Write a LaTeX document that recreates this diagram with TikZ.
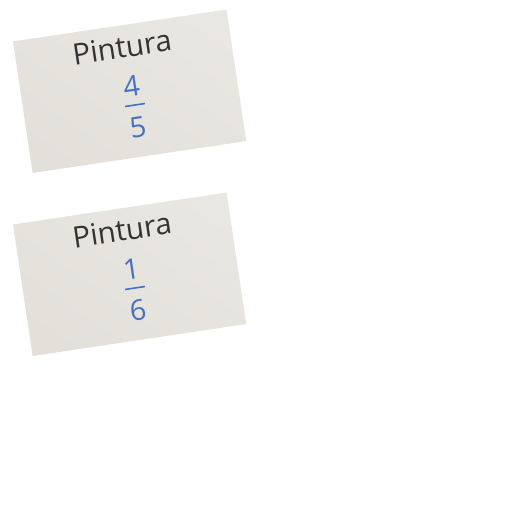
\documentclass[tikz,border=0pt]{standalone}
\usepackage{fontspec}
\usetikzlibrary{shadings}
\setmainfont{Open Sans}
\definecolor{cardA}{RGB}{234,232,226}
\definecolor{cardB}{RGB}{225,223,216}
\definecolor{txtgray}{RGB}{52,52,52}
\definecolor{fracblue}{RGB}{68,114,196}
\tikzset{
  cardbox/.style={lower left=cardB, upper right=cardA, upper left=cardA!50!cardB, lower right=cardA!50!cardB},
  title/.style={anchor=base, inner sep=0pt, transform shape, text=txtgray, font=\fontsize{29.5}{29.5}\selectfont},
  digit/.style={anchor=base, inner sep=0pt, transform shape, text=fracblue, font=\fontsize{28.5}{28.5}\selectfont},
  fbar/.style={draw=fracblue, line width=1.6pt}
}
\begin{document}
\begin{tikzpicture}[x=1pt,y=1pt]
\useasboundingbox (0,0) rectangle (512,512);
% card 1
\begin{scope}[shift={(129.6,420.75)}, rotate=8.5]
  \shade[cardbox] (-108,-66.5) rectangle (108,66.5);
  \node[title] (t1) at (-1,34) {Pintura};
  \node[digit] (n1) at (2.5,-5.4) {4};
  \coordinate (b1l) at (-6.7,-14.4);
  \coordinate (b1r) at (13.3,-14.4);
  \draw[fbar] (b1l) -- (b1r);
  \node[digit] (d1) at (3,-46.6) {5};
\end{scope}
% card 2
\begin{scope}[shift={(129.6,237.75)}, rotate=8.5]
  \shade[cardbox] (-108,-66.5) rectangle (108,66.5);
  \node[title] (t2) at (-1,34) {Pintura};
  \node[digit] (n2) at (2.5,-5.4) {1};
  \coordinate (b2l) at (-6.7,-14.4);
  \coordinate (b2r) at (13.3,-14.4);
  \draw[fbar] (b2l) -- (b2r);
  \node[digit] (d2) at (3,-46.6) {6};
\end{scope}
\end{tikzpicture}
\end{document}
